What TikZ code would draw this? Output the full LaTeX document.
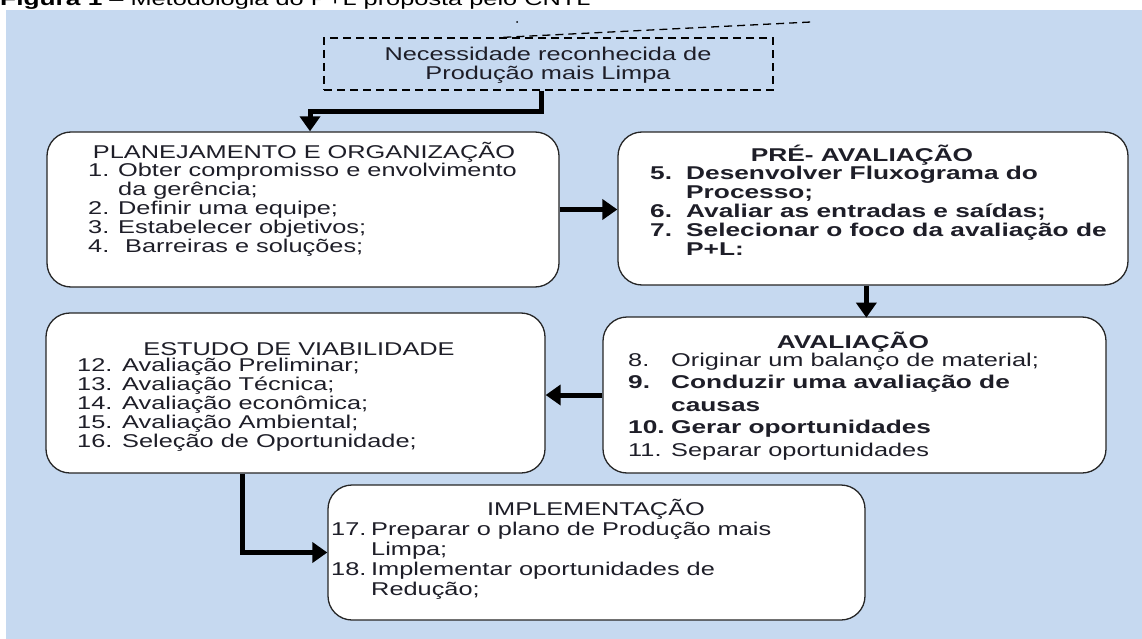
\documentclass[tikz,border=0pt]{standalone}
\usepackage{fontspec}
\setmainfont{Liberation Sans}[FakeStretch=1.37, BoldFeatures={FakeStretch=1.42}]
\usetikzlibrary{arrows.meta, calc, fit}

\definecolor{bgblue}{RGB}{198,217,240}
\definecolor{inkgray}{RGB}{30,30,40}
\newcommand{\stepfont}{\fontsize{18.5}{19}\selectfont}
\newcommand{\steplist}[2]{\begin{tabular}[t]{@{}p{#1}@{}l@{}}#2\end{tabular}}

\begin{document}
\begin{tikzpicture}[x=1pt, y=-1pt, >={Triangle[length=15pt, width=20pt]},
    stagebox/.style={draw=black!85, line width=1.3pt, fill=white, rounded corners=24pt, inner sep=0pt},
    stagetitle/.style={font=\stepfont, text=inkgray, inner sep=0pt, anchor=base},
    steptext/.style={font=\stepfont, text=inkgray, inner sep=0pt, anchor=base west},
    flow/.style={->, line width=5pt}]
  \useasboundingbox (0,0) rectangle (1142,639);
  \fill [bgblue] (6,10) rectangle (1142,639);
  \node [anchor=base west, font=\stepfont, inner sep=0pt] (caption) at (0,6)
    {\textbf{Figura 1} -- Metodologia do P+L proposta pelo CNTL};

  \node [draw, dash pattern=on 8pt off 5pt, line width=1.3pt, fit={(324,38) (773,90)}, inner sep=0pt] (need) {};
  \node [font=\stepfont, text=inkgray, align=center, inner sep=0pt] (needtxt) at (548,65)
    {Necessidade reconhecida de\\Produção mais Limpa};
  \coordinate (tail) at (811,22);
  \draw [dash pattern=on 8pt off 5pt, line width=1.3pt] ($(need.north west)!0.4!(need.north east)$) -- (tail);
  \fill (517,22) circle [radius=1pt];

  \node [stagebox, fit={(47,132) (559,287)}] (plan) {};
  \node [stagebox, fit={(618,132) (1128,285)}] (pre) {};
  \node [stagebox, fit={(603,317) (1106,473)}] (aval) {};
  \node [stagebox, fit={(46,313) (545,473)}] (estudo) {};
  \node [stagebox, fit={(328,485) (865,620)}] (impl) {};

  \node [stagetitle] (plantitle) at (304,159) {PLANEJAMENTO E ORGANIZAÇÃO};
  \node [steptext] (plantxt) at (88,176) {\steplist{30pt}{
    1. & Obter compromisso e envolvimento\\
       & da gerência;\\
    2. & Definir uma equipe;\\
    3. & Estabelecer objetivos;\\
    4. & \ Barreiras e soluções;}};

  \node [stagetitle, font=\stepfont\bfseries] (pretitle) at (862,162) {PRÉ- AVALIAÇÃO};
  \node [steptext, font=\stepfont\bfseries] (pretxt) at (650,179) {\steplist{36pt}{
    5. & Desenvolver Fluxograma do\\
       & Processo;\\
    6. & Avaliar as entradas e saídas;\\
    7. & Selecionar o foco da avaliação de\\
       & P+L:}};

  \node [stagetitle, font=\stepfont\bfseries] (avaltitle) at (853,348) {AVALIAÇÃO};
  \node [steptext, font=\fontsize{18.5}{22.5}\selectfont] (avaltxt) at (628,366) {\steplist{43pt}{
    8. & Originar um balanço de material;\\
    \textbf{9.} & \textbf{Conduzir uma avaliação de}\\
       & \textbf{causas}\\
    \textbf{10.} & \textbf{Gerar oportunidades}\\
    11. & Separar oportunidades}};

  \node [stagetitle] (estudotitle) at (299,355) {ESTUDO DE VIABILIDADE};
  \node [steptext] (estudotxt) at (77,371) {\steplist{45pt}{
    12. & Avaliação Preliminar;\\
    13. & Avaliação Técnica;\\
    14. & Avaliação econômica;\\
    15. & Avaliação Ambiental;\\
    16. & Seleção de Oportunidade;}};

  \node [stagetitle] (impltitle) at (596,515) {IMPLEMENTAÇÃO};
  \node [steptext, font=\fontsize{18.5}{20}\selectfont] (impltxt) at (331,535) {\steplist{40pt}{
    17. & Preparar o plano de Produção mais\\
        & Limpa;\\
    18. & Implementar oportunidades de\\
        & Redução;}};

  \coordinate (bend1) at (310,112);
  \draw [flow] ($(need.south west)!0.485!(need.south east)$) |- (bend1) -- (plan.north -| bend1);
  \draw [flow] (plan.east) -- (plan.east -| pre.west);
  \draw [flow] ($(pre.south west)!0.487!(pre.south east)$) -- ++(0,32);
  \draw [flow] (aval.west) -- (aval.west -| estudo.east);
  \draw [flow] ($(estudo.south west)!0.395!(estudo.south east)$) |- (impl.west);
\end{tikzpicture}
\end{document}
